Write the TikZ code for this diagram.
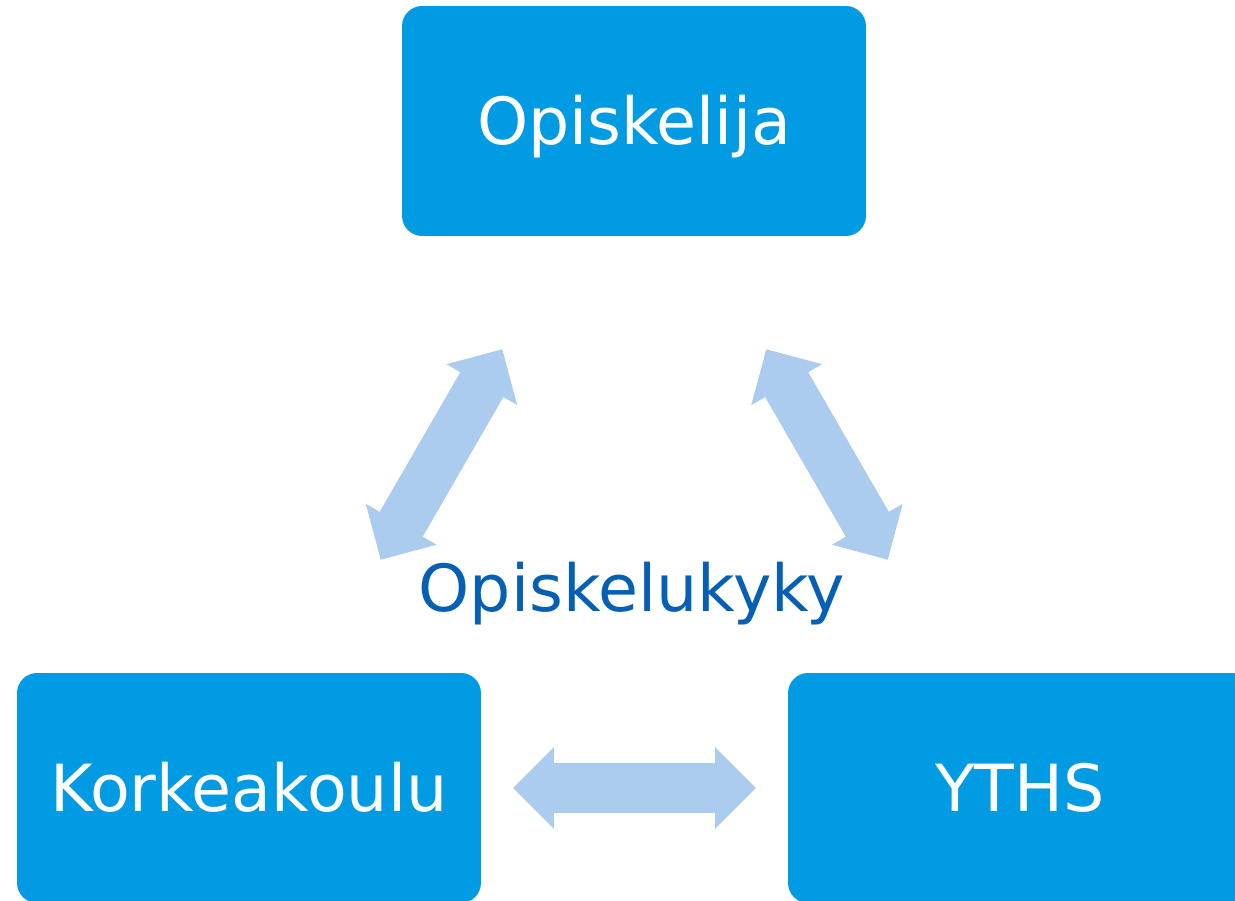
\documentclass[tikz,border=0pt]{standalone}
\usepackage{fontspec}
\setmainfont{DejaVu Sans}
\usetikzlibrary{shapes.arrows,calc}
\definecolor{laatikonsini}{RGB}{0,155,227}
\definecolor{nuolensini}{RGB}{171,203,239}
\definecolor{tekstinsini}{RGB}{5,95,180}
\begin{document}
\begin{tikzpicture}[x=0.02cm, y=0.02cm, font=\fontsize{37}{44}\selectfont, line join=round,
		laatikko/.style={fill=laatikonsini, text=white, rounded corners=0.4cm, minimum width=9.28cm, minimum height=4.6cm, inner sep=0pt, text height=27pt, text depth=0pt},
		nuoli/.style={double arrow, fill=nuolensini, inner xsep=0pt, inner ysep=0.49cm, minimum height=4.86cm, double arrow head extend=0.32cm, double arrow tip angle=90}]
	\path[use as bounding box, clip] (0,0) rectangle (1235,901);
	\node[laatikko] (O) at (634,780) {Opiskelija};
	\node[laatikko] (K) at (249,113) {Korkeakoulu};
	\node[laatikko] (Y) at (1020,113) {YTHS};
	\node[nuoli, rotate=60] (OK) at ($(O)!0.5!(K)$) {};
	\node[nuoli, rotate=-60] (OY) at ($(O)!0.5!(Y)$) {};
	\node[nuoli] (KY) at ($(K.east)!0.5!(Y.west)$) {};
	\node[text=tekstinsini, anchor=base, inner sep=0pt] (kyky) at (632,289) {Opiskelukyky};
\end{tikzpicture}
\end{document}
